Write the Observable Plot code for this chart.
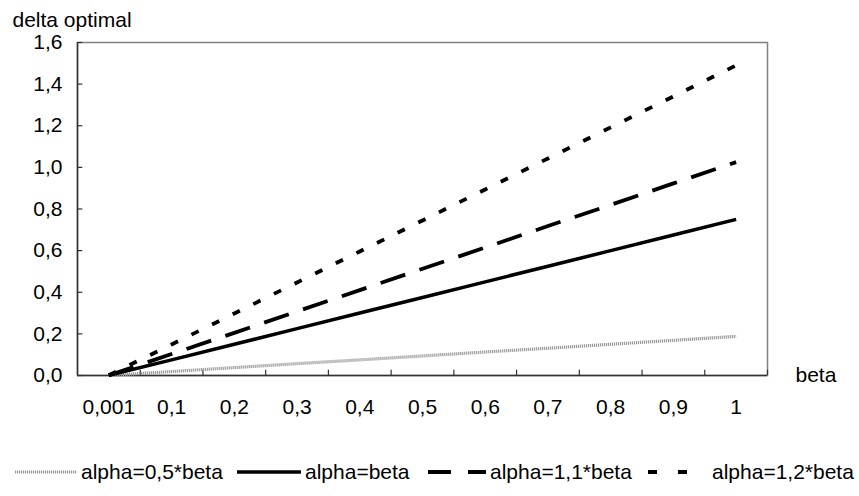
<!DOCTYPE html>
<html>
<head>
<meta charset="utf-8">
<script src="https://cdn.jsdelivr.net/npm/d3@7"></script>
<script src="https://cdn.jsdelivr.net/npm/@observablehq/plot@0.6"></script>
<style>
  body { margin: 0; background: #fff; font-family: "Liberation Sans", Arial, sans-serif; }
  #wrap { position: relative; width: 859px; height: 496px; }
  #legend { position: absolute; left: 0; top: 440px; width: 859px; height: 56px; }
  .item { position: absolute; top: 20px; display: flex; align-items: center; font-size: 21px; color: #000; white-space: nowrap; }
  .item svg { display: block; }
  .item span { margin-left: 4px; }
</style>
</head>
<body>
<div id="wrap"><div id="chart"></div><div id="legend"></div></div>
<script>
const categories = ["0,001", "0,1", "0,2", "0,3", "0,4", "0,5", "0,6", "0,7", "0,8", "0,9", "1"];
const alpha05 = [0.0002, 0.019, 0.038, 0.057, 0.075, 0.094, 0.113, 0.131, 0.150, 0.169, 0.188];
const alpha10 = [0.001, 0.075, 0.150, 0.225, 0.300, 0.375, 0.450, 0.525, 0.600, 0.675, 0.750];
const alpha11 = [0.001, 0.103, 0.205, 0.308, 0.410, 0.513, 0.615, 0.718, 0.820, 0.923, 1.025];
const alpha12 = [0.0015, 0.149, 0.298, 0.447, 0.596, 0.745, 0.894, 1.043, 1.192, 1.341, 1.49];
const seriesNames = ["alpha=0,5*beta", "alpha=beta", "alpha=1,1*beta", "alpha=1,2*beta"];
const yTicks = [0, 0.2, 0.4, 0.6, 0.8, 1.0, 1.2, 1.4, 1.6];

const seriesValues = [alpha05, alpha10, alpha11, alpha12];
const styles = [
  {stroke: "#9a9a9a", strokeWidth: 3.2, strokeDasharray: "1.2,0.8"},
  {stroke: "#000", strokeWidth: 3.5, strokeDasharray: null},
  {stroke: "#000", strokeWidth: 3.8, strokeDasharray: "26,15"},
  {stroke: "#000", strokeWidth: 3.8, strokeDasharray: "8,15"}
];

const data = [];
seriesNames.forEach((name, s) => {
  seriesValues[s].forEach((v, i) => data.push({series: name, idx: i, value: v}));
});

const idxs = categories.map((c, i) => i);
const boundaries = categories.slice(1).map((c, i) => i + 0.5).concat([categories.length - 0.5]);
const comma = d => d3.format(".1f")(d).replace(".", ",");
const FS = 21;

const plot = Plot.plot({
  width: 859,
  height: 440,
  marginTop: 42,
  marginBottom: 65,
  marginLeft: 77,
  marginRight: 92,
  style: {fontFamily: "Liberation Sans, Arial, sans-serif", fontSize: FS + "px", color: "#000", background: "#fff"},
  x: {type: "linear", domain: [-0.5, categories.length - 0.5], axis: null},
  y: {domain: [0, 1.6], axis: null},
  marks: [
    Plot.frame({stroke: "#808080", strokeWidth: 1.5}),
    Plot.ruleX([-0.5], {stroke: "#333", strokeWidth: 1.5}),
    Plot.ruleY([0], {stroke: "#333", strokeWidth: 1.5}),
    Plot.ruleY(yTicks, {x1: -0.5, x2: -0.5 + 0.085, stroke: "#333", strokeWidth: 1.2}),
    Plot.ruleX(boundaries, {y1: 0, y2: 0.025, stroke: "#333", strokeWidth: 1.2}),
    Plot.text(yTicks, {x: -0.5, y: d => d, text: comma, textAnchor: "end", dx: -15, fill: "#000", fontSize: FS}),
    Plot.text(idxs, {x: d => d, y: 0, text: d => categories[d], dy: 32, fill: "#000", fontSize: FS}),
    ...seriesNames.map((name, s) => Plot.line(data.filter(d => d.series === name), {
      x: "idx", y: "value",
      stroke: styles[s].stroke, strokeWidth: styles[s].strokeWidth,
      strokeDasharray: styles[s].strokeDasharray, strokeLinecap: "butt", strokeLinejoin: "round"
    })),
    Plot.text(["delta optimal"], {frameAnchor: "top-left", dx: -65, dy: -22, lineAnchor: "middle", textAnchor: "start", fill: "#000", fontSize: FS}),
    Plot.text(["beta"], {frameAnchor: "bottom-right", dx: 28, dy: 0, lineAnchor: "middle", textAnchor: "start", fill: "#000", fontSize: FS})
  ]
});
document.getElementById("chart").appendChild(plot);

// legend
const legendPos = [
  {sx: 15, sw: 62},
  {sx: 237, sw: 64},
  {sx: 428, sw: 58},
  {sx: 648, sw: 60}
];
const legend = document.getElementById("legend");
seriesNames.forEach((name, s) => {
  const item = document.createElement("div");
  item.className = "item";
  item.style.left = legendPos[s].sx + "px";
  const st = styles[s];
  item.innerHTML = `<svg width="${legendPos[s].sw}" height="12"><line x1="0" x2="${legendPos[s].sw}" y1="6" y2="6" stroke="${st.stroke}" stroke-width="${st.strokeWidth}" ${st.strokeDasharray ? `stroke-dasharray="${s === 2 ? '23,17' : s === 3 ? '9,21' : st.strokeDasharray}"` : ""}/></svg><span>${name}</span>`;
  legend.appendChild(item);
});
</script>
</body>
</html>
